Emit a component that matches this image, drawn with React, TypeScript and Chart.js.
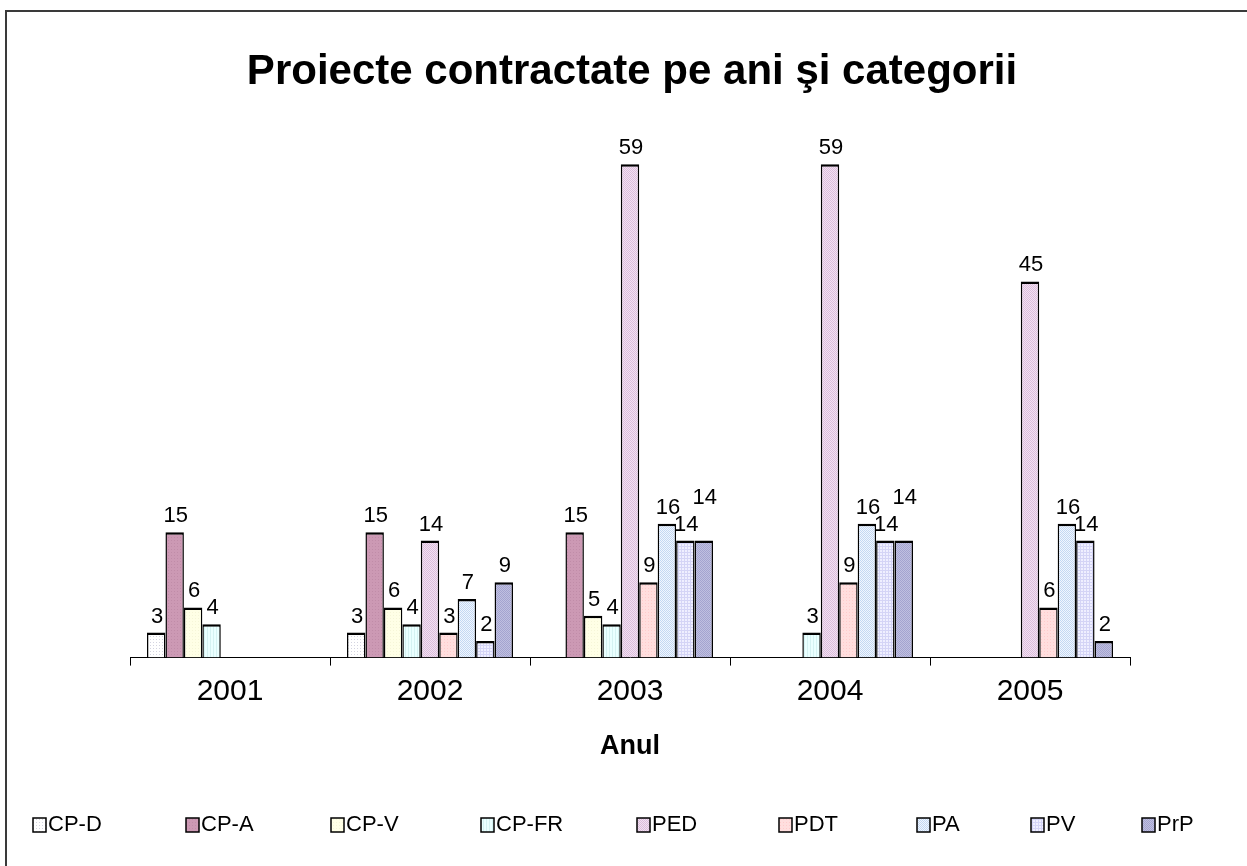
import React, { useEffect, useRef } from "react";
import { Chart, registerables } from "chart.js";

Chart.register(...registerables);

// ---------- data ----------
const years = ["2001", "2002", "2003", "2004", "2005"];
const seriesNames = ["CP-D", "CP-A", "CP-V", "CP-FR", "PED", "PDT", "PA", "PV", "PrP"];
const cpD = [3, 3, null, null, null];
const cpA = [15, 15, 15, null, null];
const cpV = [6, 6, 5, null, null];
const cpFR = [4, 4, 4, 3, null];
const ped = [null, 14, 59, 59, 45];
const pdt = [null, 3, 9, 9, 6];
const pa = [null, 7, 16, 16, 16];
const pv = [null, 2, 14, 14, 14];
const prp = [null, 9, 14, 14, 2];
const seriesValues = [cpD, cpA, cpV, cpFR, ped, pdt, pa, pv, prp];
const chartTitle = "Proiecte contractate pe ani şi categorii";
const xAxisTitle = "Anul";
const yMax = 60;

// ---------- styles ----------
const FONT = "'Liberation Sans', Arial, Helvetica, sans-serif";
type Fill = { bg: string; fg: string; kind: "solid" | "dots" | "checker" | "grid" | "vlines" };
const fills: Fill[] = [
  { bg: "#ffffff", fg: "#d4d4e0", kind: "dots" },
  { bg: "#cc99b4", fg: "#c08ca8", kind: "dots" },
  { bg: "#ffffe6", fg: "#f6f6d8", kind: "dots" },
  { bg: "#eaffff", fg: "#d4f2f2", kind: "vlines" },
  { bg: "#f2e2f2", fg: "#dcbddc", kind: "checker" },
  { bg: "#ffdede", fg: "#ffcccc", kind: "dots" },
  { bg: "#f0f6ff", fg: "#c4d8f2", kind: "checker" },
  { bg: "#efefff", fg: "#d4d4f6", kind: "grid" },
  { bg: "#c0c0e0", fg: "#a4a4d0", kind: "checker" },
];
const legendBoxX = [33, 186, 331, 481, 637, 779, 917, 1031, 1142];

function makeFill(f: Fill): CanvasPattern | string {
  if (f.kind === "solid") return f.bg;
  const c = document.createElement("canvas");
  const size = f.kind === "checker" ? 2 : 3;
  c.width = size;
  c.height = size;
  const g = c.getContext("2d")!;
  g.fillStyle = f.bg;
  g.fillRect(0, 0, size, size);
  g.fillStyle = f.fg;
  if (f.kind === "dots") g.fillRect(0, 0, 1, 1);
  if (f.kind === "checker") {
    g.fillRect(0, 0, 1, 1);
    g.fillRect(1, 1, 1, 1);
  }
  if (f.kind === "grid") {
    g.fillRect(0, 0, size, 1);
    g.fillRect(0, 0, 1, size);
  }
  if (f.kind === "vlines") g.fillRect(0, 0, 1, size);
  const p = g.createPattern(c, "repeat");
  return p || f.bg;
}

export default function App() {
  const ref = useRef<HTMLCanvasElement | null>(null);

  useEffect(() => {
    if (!ref.current) return;
    const patterns = fills.map(makeFill);

    const decorPlugin = {
      id: "decor",
      afterDraw(chart: any) {
        const ctx = chart.ctx as CanvasRenderingContext2D;
        ctx.save();
        // frame
        ctx.strokeStyle = "#3a3a3a";
        ctx.lineWidth = 2;
        ctx.beginPath();
        ctx.moveTo(6, 870);
        ctx.lineTo(6, 11);
        ctx.lineTo(1250, 11);
        ctx.stroke();

        // title
        ctx.fillStyle = "#000";
        ctx.textAlign = "center";
        ctx.textBaseline = "middle";
        ctx.font = `bold 42px ${FONT}`;
        ctx.fillText(chartTitle, 632, 72);

        // data labels (with simple collision avoidance)
        ctx.font = `22px ${FONT}`;
        ctx.textBaseline = "alphabetic";
        const placed: { l: number; r: number; t: number; b: number }[] = [];
        const capH = 15;
        for (let j = 0; j < years.length; j++) {
          chart.data.datasets.forEach((ds: any, i: number) => {
            const v = ds.data[j];
            if (v === null || v === undefined) return;
            const el = chart.getDatasetMeta(i).data[j];
            const text = String(v);
            const w = ctx.measureText(text).width;
            const x = el.x + 1;
            let base = el.y - 10;
            let box = { l: x - w / 2, r: x + w / 2, t: base - capH, b: base };
            let guard = 0;
            while (
              guard < 5 &&
              placed.some((p) => box.l < p.r - 1 && box.r > p.l + 1 && box.t < p.b && box.b > p.t)
            ) {
              base -= 27;
              box = { l: x - w / 2, r: x + w / 2, t: base - capH, b: base };
              guard++;
            }
            placed.push(box);
            ctx.fillText(text, x, base);
          });
        }

        // legend
        ctx.textAlign = "left";
        ctx.textBaseline = "middle";
        ctx.font = `22px ${FONT}`;
        seriesNames.forEach((name, i) => {
          const x = legendBoxX[i];
          const y = 818;
          ctx.fillStyle = patterns[i] as any;
          ctx.fillRect(x, y, 13, 14);
          ctx.strokeStyle = "#000";
          ctx.lineWidth = 1.5;
          ctx.strokeRect(x, y, 13, 14);
          ctx.fillStyle = "#000";
          ctx.fillText(name, x + 15, 825);
        });
        ctx.restore();
      },
    };

    const chart = new Chart(ref.current, {
      type: "bar",
      data: {
        labels: years,
        datasets: seriesNames.map((name, i) => ({
          label: name,
          data: seriesValues[i] as any,
          backgroundColor: patterns[i] as any,
          borderColor: "#000",
          borderWidth: { top: 2.5, left: 1.5, right: 1.5, bottom: 0 },
          borderSkipped: "bottom",
          categoryPercentage: 0.83,
          barPercentage: 1,
          skipNull: false,
        })),
      },
      options: {
        responsive: false,
        animation: false,
        layout: { padding: { left: 130, right: 117, top: 156, bottom: 99 } },
        plugins: {
          legend: { display: false },
          title: { display: false },
          tooltip: { enabled: false },
        },
        scales: {
          x: {
            offset: true,
            grid: {
              display: true,
              offset: true,
              drawOnChartArea: false,
              drawTicks: true,
              tickLength: 8,
              color: "#000",
              lineWidth: 1,
            },
            border: { display: true, color: "#000", width: 1 },
            ticks: {
              color: "#000",
              padding: 8,
              font: { family: FONT, size: 30 },
              maxRotation: 0,
            },
            title: {
              display: true,
              text: xAxisTitle,
              color: "#000",
              font: { family: FONT, size: 27, weight: "bold" },
              padding: { top: 13, bottom: 4 },
            },
          },
          y: {
            display: false,
            min: 0,
            max: yMax,
          },
        },
      },
      plugins: [decorPlugin],
    });
    return () => chart.destroy();
  }, []);

  return (
    <div style={{ position: "fixed", left: 0, top: 0, width: 1247, height: 866, background: "#fff" }}>
      <canvas ref={ref} width={1247} height={866} style={{ display: "block" }} />
    </div>
  );
}
